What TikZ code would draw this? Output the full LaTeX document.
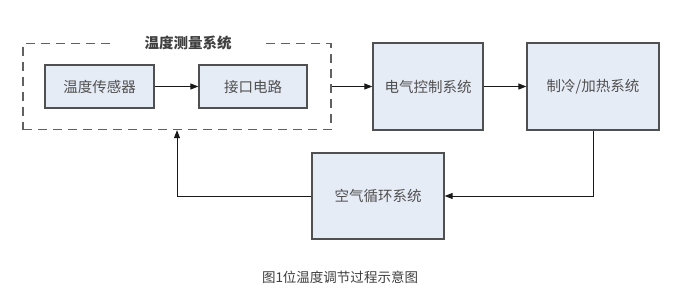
\documentclass[tikz,border=0pt]{standalone}
\usepackage{fontspec}
\setmainfont{Noto Sans CJK SC}
\usetikzlibrary{arrows.meta}
\definecolor{boxfill}{HTML}{E6ECF6}
\definecolor{boxline}{HTML}{505050}
\definecolor{txt}{HTML}{505050}
\begin{document}
\begin{tikzpicture}[x=1pt,y=-1pt,
  blk/.style={draw=boxline,line width=1.3pt,fill=boxfill,inner sep=0pt,text=txt,font=\fontsize{14.5}{16}\selectfont},
  arr/.style={draw=black!90,line width=1pt,-{Triangle[length=8pt,width=6pt]}},
  ln/.style={draw=boxline,line width=1pt}]
\useasboundingbox (0,0) rectangle (677,295);
\fill[white] (0,0) rectangle (677,295);
\node[draw=boxline!90,dash pattern=on 9pt off 6pt,line width=1.3pt,minimum width=308pt,minimum height=86pt,inner sep=0pt] (meas) at (177,86.5) {};
\node[fill=white,inner xsep=30pt,inner ysep=3pt,text=black!75,font=\bfseries\fontsize{14.5}{16}\selectfont] (title) at (188,43) {温度测量系统};
\node[blk,minimum width=109pt,minimum height=43pt] (sens) at (99.5,86.5) {温度传感器};
\node[blk,minimum width=108pt,minimum height=43pt] (intf) at (253,86.5) {接口电路};
\node[blk,minimum width=110pt,minimum height=87pt] (ctrl) at (428,86.5) {电气控制系统};
\node[blk,minimum width=132pt,minimum height=87pt] (heat) at (593,86.5) {制冷/加热系统};
\node[blk,minimum width=132pt,minimum height=86pt] (air) at (378,196) {空气循环系统};
\node[text=black!75,font=\fontsize{13.5}{15}\selectfont] (cap) at (340,277) {图1位温度调节过程示意图};
\coordinate (c1) at (593,196);
\coordinate (c2) at (177,196);
\draw[arr] (sens) -- (intf);
\draw[arr] (meas.east) -- (ctrl.west);
\draw[arr] (ctrl) -- (heat);
\draw[arr] (heat.south) -- (c1) -- (air.east);
\draw[arr] (air.west) -- (c2) -- (c2 |- meas.south);
\end{tikzpicture}
\end{document}
